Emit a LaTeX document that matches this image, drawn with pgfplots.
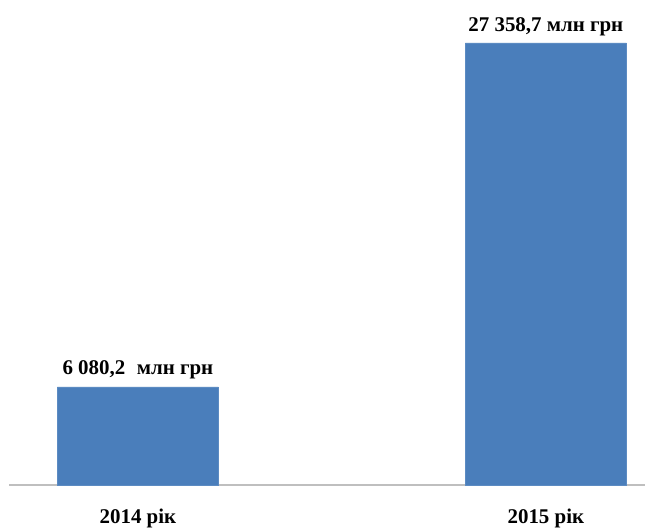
\documentclass[border=0pt]{standalone}
\usepackage{pgfplots}
\pgfplotsset{compat=1.18}
\usepackage{fontspec}
\setmainfont{Liberation Serif}
\definecolor{barblue}{HTML}{4A7EBB}
\definecolor{axisgray}{HTML}{BFBFBF}
\begin{document}
\begin{tikzpicture}
\path[use as bounding box] (-9bp,-43bp) rectangle (636bp,485bp);
\begin{axis}[
  scale only axis,
  width=636bp, height=442bp,
  xmin=-0.316, xmax=1.243,
  ymin=0, ymax=27358.7,
  axis x line=bottom,
  axis y line=none,
  x axis line style={axisgray, line width=1.2bp, -},
  xtick={0,1},
  xticklabels={2014 рік, 2015 рік},
  major tick length=0pt,
  xticklabel style={font=\bfseries\fontsize{21}{23}\selectfont, yshift=-20bp},
  ybar, bar width=161bp,
  point meta=explicit symbolic,
  nodes near coords,
  nodes near coords style={font=\bfseries\fontsize{21}{23}\selectfont, yshift=4bp},
  clip=false,
]
\addplot[fill=barblue, draw=barblue!90!white] coordinates {
  (0,6080.2) [{6 080,2\hspace{0.3em} млн грн}]
  (1,27358.7) [{27 358,7 млн грн}]
};
\end{axis}
\end{tikzpicture}
\end{document}
